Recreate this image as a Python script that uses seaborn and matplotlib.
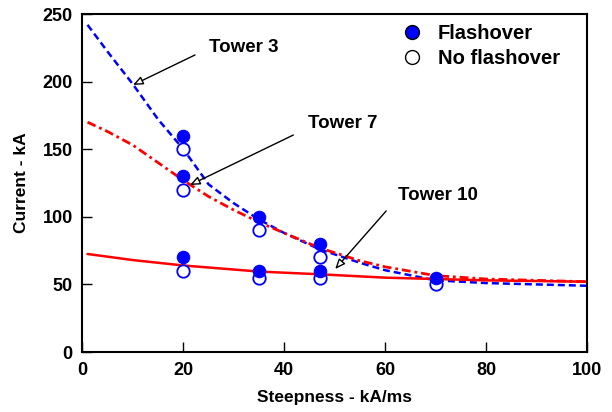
import matplotlib
matplotlib.use("Agg")
import matplotlib.pyplot as plt
import seaborn as sns
import pandas as pd
from matplotlib.lines import Line2D

# ---- data ----
steepness = [20, 20, 20, 35, 35, 47, 47, 70]
flashover_current = [160, 130, 70, 100, 60, 80, 60, 55]
no_flashover_current = [150, 120, 60, 90, 55, 70, 55, 50]

curve_x = [1, 5, 10, 15, 20, 25, 30, 35, 40, 47, 55, 60, 70, 80, 90, 100]
tower3_y = [242, 222, 198, 172, 150, 124, 110, 98, 88, 76, 66, 60.5, 53, 51, 50, 49]
tower7_y = [170, 163, 153, 140, 127, 115, 105, 96, 88, 77, 67.5, 63, 56.5, 54, 53, 52]
tower10_x = [1, 10, 20, 35, 47, 60, 70, 80, 90, 100]
tower10_y = [72.5, 68, 64, 59.5, 57.5, 55, 54, 53, 52.5, 52]

legend_labels = ["Flashover", "No flashover"]
tower_labels = ["Tower 3", "Tower 7", "Tower 10"]

sns.set_style("ticks", {"xtick.direction": "in", "ytick.direction": "in"})
plt.rcParams["font.family"] = ["Liberation Sans", "DejaVu Sans"]
plt.rcParams["font.weight"] = "bold"
for key in ["text.color", "axes.labelcolor", "xtick.color", "ytick.color",
            "axes.edgecolor"]:
    plt.rcParams[key] = "black"

fig = plt.figure(figsize=(6.12, 4.12), dpi=100)
ax = fig.add_axes([0.1348, 0.1456, 0.8242, 0.8204])

# curves
sns.lineplot(x=curve_x, y=tower3_y, ax=ax, color="#0000ff", lw=1.8,
             linestyle=(0, (2.8, 1.6)), sort=False, estimator=None)
sns.lineplot(x=curve_x, y=tower7_y, ax=ax, color="#ff0000", lw=2.0,
             linestyle=(0, (3.2, 1.4, 1.0, 1.4)), sort=False, estimator=None)
sns.lineplot(x=tower10_x, y=tower10_y, ax=ax, color="#ff0000", lw=1.8,
             sort=False, estimator=None)

# points
df_f = pd.DataFrame({"x": steepness, "y": flashover_current})
df_n = pd.DataFrame({"x": steepness, "y": no_flashover_current})
sns.scatterplot(data=df_n, x="x", y="y", ax=ax, s=80, facecolor="white",
                edgecolor="#0000ff", linewidth=1.3, zorder=4)
sns.scatterplot(data=df_f, x="x", y="y", ax=ax, s=80, color="#0000ff",
                edgecolor="#0000ff", linewidth=0.8, zorder=5)

ax.set_xlim(0, 100)
ax.set_ylim(0, 250)
ax.set_xticks([0, 20, 40, 60, 80, 100])
ax.set_yticks([0, 50, 100, 150, 200, 250])
for s in ax.spines.values():
    s.set_visible(True)
    s.set_linewidth(1.5)
    s.set_color("black")
ax.tick_params(axis="both", which="major", direction="in", length=7, width=1,
               labelsize=13, pad=7, color="black", labelcolor="black")
for lab in ax.get_xticklabels() + ax.get_yticklabels():
    lab.set_fontweight("bold")

ax.set_xlabel("Steepness - kA/ms", fontsize=12.5, fontweight="bold", labelpad=8,
              color="black")
ax.set_ylabel("Current - kA", fontsize=12.5, fontweight="bold", labelpad=10,
              color="black")

# annotations
arrowprops = dict(arrowstyle="-|>,head_length=0.6,head_width=0.25",
                  fc="white", ec="black", lw=1.0, shrinkA=0, shrinkB=0)
ax.text(32, 225, tower_labels[0], fontsize=13.5, fontweight="bold",
        ha="center", va="center", color="black")
ax.annotate("", xy=(10, 197.5), xytext=(22.3, 219.7), arrowprops=arrowprops)
ax.text(51.6, 169, tower_labels[1], fontsize=13.5, fontweight="bold",
        ha="center", va="center", color="black")
ax.annotate("", xy=(21.3, 123.5), xytext=(41.8, 160.5), arrowprops=arrowprops)
ax.text(70.5, 116, tower_labels[2], fontsize=13.5, fontweight="bold",
        ha="center", va="center", color="black")
ax.annotate("", xy=(50.1, 61.4), xytext=(60.2, 104.3), arrowprops=arrowprops)

# legend
handles = [
    Line2D([], [], marker="o", linestyle="none", markersize=10,
           markerfacecolor="#0000ff", markeredgecolor="black", markeredgewidth=1),
    Line2D([], [], marker="o", linestyle="none", markersize=10,
           markerfacecolor="white", markeredgecolor="black", markeredgewidth=1),
]
leg = ax.legend(handles, legend_labels, loc="upper left",
                bbox_to_anchor=(0.617, 0.995), frameon=False,
                prop={"size": 14.5, "weight": "bold"}, handlelength=1.0,
                handletextpad=0.8, labelspacing=0.3, borderaxespad=0)
for t in leg.get_texts():
    t.set_color("black")

fig.savefig("out.png", dpi=100)
